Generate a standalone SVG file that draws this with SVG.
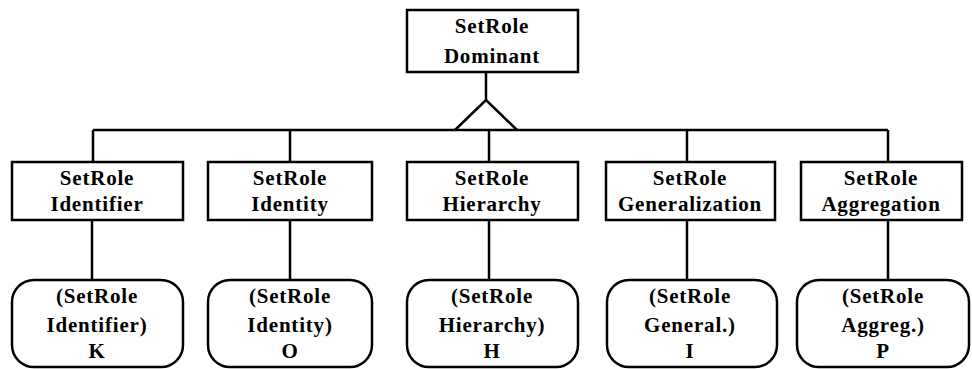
<svg xmlns="http://www.w3.org/2000/svg" width="972" height="369" viewBox="0 0 972 369">
<style>
.box{fill:#fff;stroke:#000;stroke-width:2.5}
.ln{fill:none;stroke:#000;stroke-width:2.5}
text{font-family:"Liberation Serif","Times New Roman",serif;font-weight:bold;font-size:21px;text-anchor:middle;fill:#000;letter-spacing:0.8px}
</style>
<rect width="972" height="369" fill="#fff"/>
<g id="connectors">
<line class="ln" x1="486" y1="72" x2="486" y2="100"/>
<polyline class="ln" points="455,130 486,100 517,130"/>
<line class="ln" x1="93" y1="130" x2="888" y2="130"/>
<line class="ln" x1="93" y1="130" x2="93" y2="162"/>
<line class="ln" x1="290" y1="130" x2="290" y2="162"/>
<line class="ln" x1="489" y1="130" x2="489" y2="162"/>
<line class="ln" x1="687" y1="130" x2="687" y2="162"/>
<line class="ln" x1="888" y1="130" x2="888" y2="162"/>
<line class="ln" x1="92" y1="220" x2="92" y2="280"/>
<line class="ln" x1="290" y1="220" x2="290" y2="280"/>
<line class="ln" x1="489" y1="220" x2="489" y2="280"/>
<line class="ln" x1="687" y1="220" x2="687" y2="280"/>
<line class="ln" x1="888" y1="220" x2="888" y2="280"/>
</g>
<g id="dominant">
<rect class="box" x="407" y="10" width="171" height="62"/>
<text x="492" y="33">SetRole</text>
<text x="492" y="63">Dominant</text>
</g>
<g id="identifier">
<rect class="box" x="12" y="162" width="171" height="58"/>
<text x="97" y="185">SetRole</text>
<text x="97" y="211">Identifier</text>
</g>
<g id="identity">
<rect class="box" x="208" y="162" width="164" height="58"/>
<text x="290" y="185">SetRole</text>
<text x="290" y="211">Identity</text>
</g>
<g id="hierarchy">
<rect class="box" x="407" y="162" width="171" height="58"/>
<text x="492" y="185">SetRole</text>
<text x="492" y="211">Hierarchy</text>
</g>
<g id="generalization">
<rect class="box" x="606" y="162" width="169" height="58"/>
<text x="690" y="185">SetRole</text>
<text x="690" y="211">Generalization</text>
</g>
<g id="aggregation">
<rect class="box" x="801" y="162" width="161" height="58"/>
<text x="881" y="185">SetRole</text>
<text x="881" y="211">Aggregation</text>
</g>
<g id="k">
<rect class="box" x="12" y="280" width="171" height="87" rx="22"/>
<text x="97" y="303">(SetRole</text>
<text x="97" y="332">Identifier)</text>
<text x="97" y="358">K</text>
</g>
<g id="o">
<rect class="box" x="208" y="280" width="164" height="87" rx="22"/>
<text x="290" y="303">(SetRole</text>
<text x="290" y="332">Identity)</text>
<text x="290" y="358">O</text>
</g>
<g id="h">
<rect class="box" x="407" y="280" width="171" height="87" rx="22"/>
<text x="492" y="303">(SetRole</text>
<text x="492" y="332">Hierarchy)</text>
<text x="492" y="358">H</text>
</g>
<g id="i">
<rect class="box" x="607" y="280" width="170" height="87" rx="22"/>
<text x="690" y="303">(SetRole</text>
<text x="690" y="332">General.)</text>
<text x="690" y="358">I</text>
</g>
<g id="p">
<rect class="box" x="797" y="280" width="172" height="87" rx="22"/>
<text x="883" y="303">(SetRole</text>
<text x="883" y="332">Aggreg.)</text>
<text x="883" y="358">P</text>
</g>
</svg>
